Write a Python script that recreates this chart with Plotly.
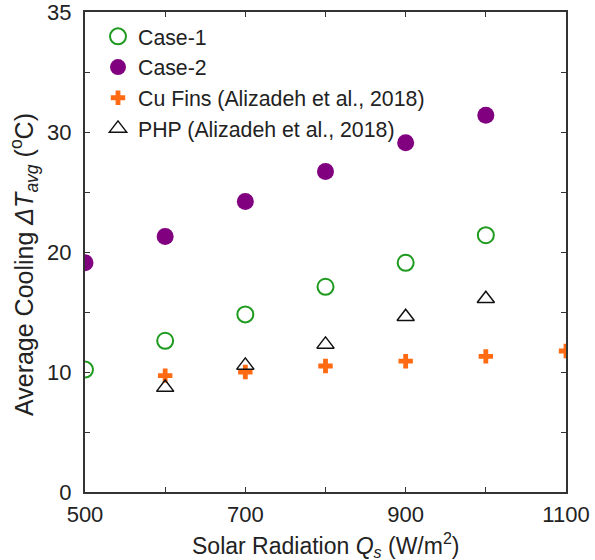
import plotly.graph_objects as go

# Data
qs_case = [500, 600, 700, 800, 900, 1000]
case1 = [10.2, 12.6, 14.8, 17.1, 19.1, 21.4]
case2 = [19.1, 21.3, 24.2, 26.7, 29.1, 31.4]
qs_cu = [600, 700, 800, 900, 1000, 1100]
cu_fins = [9.7, 10.0, 10.5, 10.9, 11.3, 11.75]
qs_php = [600, 700, 800, 900, 1000]
php = [8.7, 10.55, 12.3, 14.6, 16.1]

x_tickvals = [500, 700, 900, 1100]
x_ticktext = ["500", "700", "900", "1100"]
y_tickvals = [0, 10, 20, 30, 40]
y_ticktext = ["0", "10", "20", "30", "35"]

FONT = "Liberation Sans, Arial, sans-serif"
TXT = "#222222"

W, H = 595, 560
ML, MR, MT, MB = 85, 29, 12, 68
PW, PH = W - ML - MR, H - MT - MB

fig = go.Figure()
fig.add_trace(go.Scatter(
    x=qs_case, y=case1, mode="markers", name="Case-1",
    marker=dict(symbol="circle-open", size=16, color="#1e9a1e",
                line=dict(width=2, color="#1e9a1e"))))
fig.add_trace(go.Scatter(
    x=qs_case, y=case2, mode="markers", name="Case-2",
    marker=dict(symbol="circle", size=17, color="#800080",
                line=dict(width=0))))
fig.add_trace(go.Scatter(
    x=qs_cu, y=cu_fins, mode="markers", name="Cu Fins (Alizadeh et al., 2018)",
    marker=dict(symbol="cross", size=12, color="#ff6a13",
                line=dict(width=0))))
fig.add_trace(go.Scatter(
    x=qs_php, y=php, mode="markers", name="PHP (Alizadeh et al., 2018)",
    marker=dict(symbol="triangle-up-open", size=15, color="#111111",
                line=dict(width=1.5, color="#111111"))))

axis_common = dict(
    showline=True, linecolor="#333333", linewidth=2, mirror="ticks",
    ticks="inside", ticklen=5, tickwidth=1, tickcolor="#333333",
    showgrid=False, zeroline=False, automargin=False,
    ticklabeloverflow="allow",
    tickfont=dict(family=FONT, size=22, color=TXT),
)

fig.update_layout(
    width=W, height=H,
    margin=dict(l=ML, r=MR, t=MT, b=MB),
    paper_bgcolor="white", plot_bgcolor="white",
    font=dict(family=FONT, size=22, color=TXT),
    showlegend=True,
    legend=dict(x=(98 - ML) / PW, y=1 - (16 - MT) / PH, xanchor="left", yanchor="top",
                bgcolor="rgba(0,0,0,0)", borderwidth=0,
                font=dict(family=FONT, size=21.3, color=TXT),
                tracegroupgap=0, itemwidth=30),
    xaxis=dict(range=[500, 1100], tickvals=x_tickvals, ticktext=x_ticktext,
               ticklabelstandoff=2,
               minor=dict(dtick=100, tick0=500, ticks="inside", ticklen=5,
                          tickwidth=1, tickcolor="#333333"),
               **axis_common),
    yaxis=dict(range=[0, 40], tickvals=y_tickvals, ticktext=y_ticktext,
               ticklabelstandoff=7,
               minor=dict(dtick=5, tick0=0, ticks="inside", ticklen=5,
                          tickwidth=1, tickcolor="#333333"),
               **axis_common),
    annotations=[
        dict(text="Solar Radiation <i>Q</i><sub><i>s</i></sub> (W/m<sup>2</sup>)",
             xref="paper", yref="paper", x=0.5, y=-(545 - (H - MB)) / PH,
             xanchor="center", yanchor="middle", showarrow=False,
             font=dict(family=FONT, size=23, color=TXT)),
        dict(text="Average Cooling <i>ΔT</i><sub><i>avg</i></sub> (<sup>o</sup>C)",
             xref="paper", yref="paper", x=(24 - ML) / PW, y=((H - MB) - 265) / PH,
             xanchor="center", yanchor="middle", textangle=-90, showarrow=False,
             font=dict(family=FONT, size=25, color=TXT)),
    ],
)

fig.write_html("out.html", config={"displayModeBar": False},
               post_script="document.body.style.margin='0';")
